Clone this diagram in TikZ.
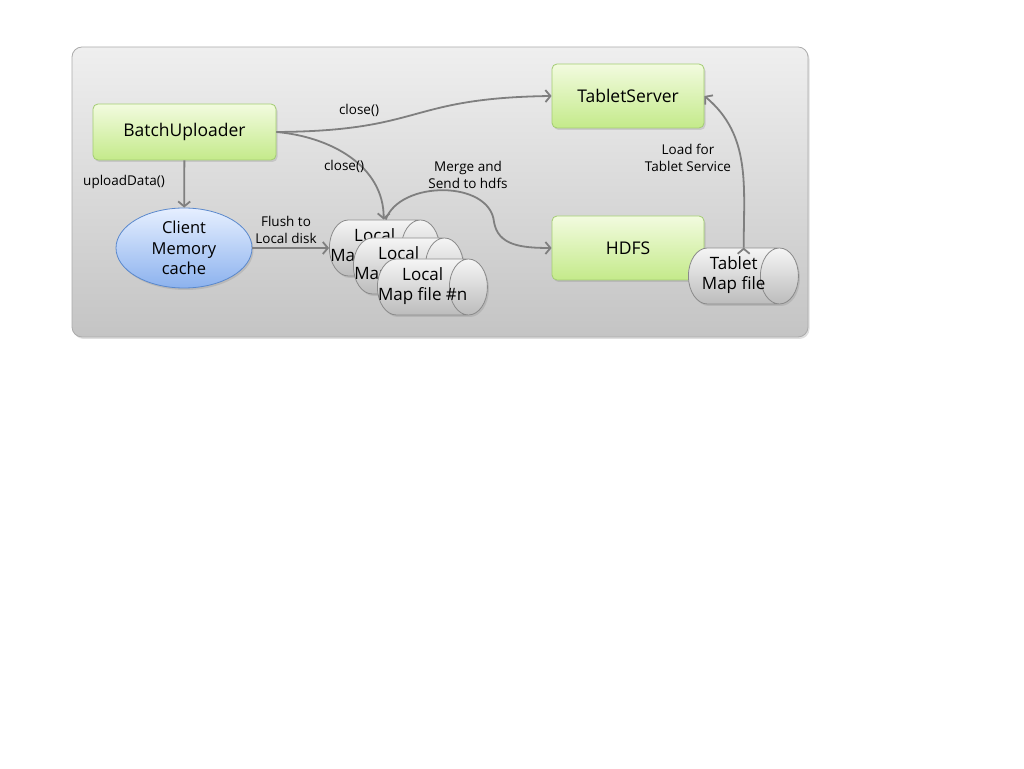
\documentclass[tikz,border=0pt]{standalone}
\usepackage{fontspec}
\setmainfont{Open Sans}
\usetikzlibrary{shapes.geometric,arrows.meta,shadows}

\definecolor{panelTop}{HTML}{EFEFEF}
\definecolor{panelBot}{HTML}{C4C4C4}
\definecolor{panelLine}{HTML}{ABABAB}
\definecolor{greenTop}{HTML}{F2FBDF}
\definecolor{greenBot}{HTML}{C4EA8A}
\definecolor{greenLine}{HTML}{A3CC72}
\definecolor{blueTop}{HTML}{E6EFFF}
\definecolor{blueBot}{HTML}{8CB2EE}
\definecolor{blueLine}{HTML}{5A88CC}
\definecolor{cylTop}{HTML}{F5F5F5}
\definecolor{cylBot}{HTML}{BCBCBC}
\definecolor{cylLine}{HTML}{8A8A8A}
\definecolor{flowGray}{HTML}{7F7F7F}

\newcommand{\cyltext}[2]{\makebox[0pt]{\begin{tabular}{@{}c@{}}#1\\#2\end{tabular}}}

\tikzset{
  softshadow/.style={drop shadow={shadow xshift=1.5pt,shadow yshift=-2pt,opacity=0.25}},
  server/.style={rectangle,rounded corners=5pt,draw=greenLine,line width=0.8pt,
    top color=greenTop,bottom color=greenBot,minimum width=152pt,minimum height=64pt,
    font=\fontsize{17.5}{21}\selectfont,softshadow},
  cache/.style={ellipse,draw=blueLine,line width=0.8pt,top color=blueTop,bottom color=blueBot,
    minimum width=136pt,minimum height=80pt,inner sep=0pt,align=center,
    font=\fontsize{16.5}{20.5}\selectfont,softshadow},
  mapfile/.style={cylinder,shape border rotate=0,shape aspect=0.95,draw=cylLine,line width=0.8pt,
    top color=cylTop,bottom color=cylBot,minimum width=56pt,minimum height=110pt,inner sep=0pt,
    anchor=west,font=\fontsize{17}{20}\selectfont,softshadow},
  flow/.style={draw=flowGray,line width=1.8pt,-{Straight Barb[length=5pt,width=12pt]}},
  note/.style={font=\fontsize{13.5}{17}\selectfont,align=center,inner sep=1pt}
}

\begin{document}
\begin{tikzpicture}[x=1pt,y=1pt]
  \useasboundingbox (0,0) rectangle (1024,768);
  % panel
  \draw[panelLine,line width=0.8pt,rounded corners=10pt,top color=panelTop,bottom color=panelBot,softshadow]
    (72,721) rectangle (808,431);

  % nodes
  \node[server,minimum width=183pt,minimum height=56pt] (bu) at (184.5,636) {BatchUploader};
  \node[server] (ts) at (628,672) {TabletServer};
  \node[server] (hdfs) at (628,520) {HDFS};
  \node[cache] (cmc) at (184,520) {Client\\Memory\\cache};
  \node[mapfile] (lm1) at (329,520) {\cyltext{Local}{Map file \#1}};
  \node[mapfile] (lm2) at (353,502) {\cyltext{Local}{Map file \#2}};
  \node[mapfile] (lm3) at (377,481) {\cyltext{Local}{Map file \#n}};
  \node[mapfile] (tmf) at (688,492) {\cyltext{Tablet}{Map file}};

  % connectors
  \coordinate (mg) at (494,546);
  \coordinate (lm1-top) at ([xshift=9pt]lm1.north);
  \coordinate (tmf-top) at ([xshift=10pt]tmf.north);
  \path[flow]
    (bu) edge (cmc)
    (cmc) edge (lm1)
    (bu.east) edge[out=-5,in=90] (lm1-top)
    (tmf-top) edge[out=90,in=-40] (ts.east);
  \draw[flow] (bu.east) .. controls (425,637) and (405,670) .. (ts.west);
  \draw[flow] ([xshift=2pt]lm1-top) .. controls (400,588) and (490,588) .. (mg)
    .. controls (498,523) and (520,520) .. (hdfs.west);

  % labels
  \node[note] (l-up) at (124,586) {uploadData()};
  \node[note] (l-flush) at (286,538) {Flush to\\Local disk};
  \node[note] (l-close1) at (359,658) {close()};
  \node[note] (l-close2) at (344,602) {close()};
  \node[note] (l-merge) at (468,593) {Merge and\\Send to hdfs};
  \node[note] (l-load) at (688,610) {Load for\\Tablet Service};
\end{tikzpicture}
\end{document}
